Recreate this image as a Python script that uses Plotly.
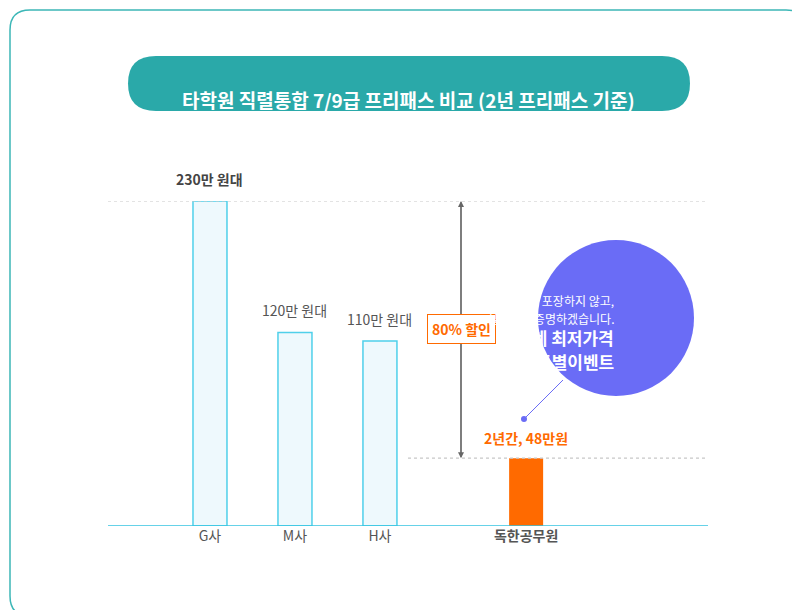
import plotly.graph_objects as go

# data
companies = ["G사", "M사", "H사", "독한공무원"]
x_pos = [0, 1, 2, 3.72]
bar_heights = [230, 137, 131, 48]   # drawn heights as seen in picture
price_labels = ["230만 원대", "120만 원대", "110만 원대", "2년간, 48만원"]

W, H = 800, 610
L, R, B, T = 100, 100, 92, 193
XMIN, XMAX = -1.2, 5.86

def px(x):
    return (x - L) / (W - L - R)

def py(y):
    return (H - B - y) / (H - B - T)

def dx(x):
    return XMIN + (x - L) * (XMAX - XMIN) / (W - L - R)

fig = go.Figure()
fig.add_bar(x=x_pos[:3], y=bar_heights[:3], width=0.4,
            marker=dict(color="#eef9fd", line=dict(color="#4fd0ea", width=1.5)))
fig.add_bar(x=x_pos[3:], y=bar_heights[3:], width=0.4,
            marker=dict(color="#ff6a00", line=dict(width=0)))

shapes = []
# outer frame
shapes.append(dict(type="path", xref="paper", yref="paper",
    path="M {0},{1} L {2},{1} Q {3},{1} {3},{4} L {3},{5} Q {3},{6} {2},{6} L {0},{6} Q {7},{6} {7},{5} L {7},{4} Q {7},{1} {0},{1} Z".format(
        px(22), py(2), px(778), px(798), py(22), py(588), py(608), px(2)),
    line=dict(color="#3cb7b7", width=1.5), fillcolor="rgba(0,0,0,0)", layer="below"))
# title pill
shapes.append(dict(type="path", xref="paper", yref="paper",
    path="M {0},{1} L {2},{1} Q {3},{1} {3},{4} Q {3},{5} {2},{5} L {0},{5} Q {6},{5} {6},{4} Q {6},{1} {0},{1} Z".format(
        px(148), py(48), px(654), px(682), py(75.5), py(103), px(120)),
    line=dict(width=0), fillcolor="#2aa9a9"))
# baseline
shapes.append(dict(type="line", xref="paper", yref="y", x0=0, x1=1, y0=0, y1=0,
                   line=dict(color="#33c3e0", width=1.5)))
# dotted guides
shapes.append(dict(type="line", xref="paper", yref="y", x0=0, x1=1, y0=230, y1=230,
                   line=dict(color="#c8c8c8", width=1.2, dash="dot")))
shapes.append(dict(type="line", xref="paper", yref="y", x0=px(400), x1=1, y0=48, y1=48,
                   line=dict(color="#c8c8c8", width=1.2, dash="dot")))
# purple circle
shapes.append(dict(type="circle", xref="paper", yref="paper",
    x0=px(530), x1=px(686), y0=py(388), y1=py(232), fillcolor="#6a6cf6", line=dict(width=0)))
# connector
shapes.append(dict(type="line", xref="paper", yref="paper", x0=px(516), y0=py(411),
                   x1=px(555), y1=py(372), line=dict(color="#6a6cf6", width=1)))
shapes.append(dict(type="circle", xref="paper", yref="paper", x0=px(513), x1=px(519),
                   y0=py(414), y1=py(408), fillcolor="#6a6cf6", line=dict(width=0)))

ann = []
ann.append(dict(x=0.5, y=py(76), xref="paper", yref="paper", showarrow=False,
    text="<b>타학원 직렬통합 7/9급 프리패스 비교 (2년 프리패스 기준)</b>",
    font=dict(size=19, color="white")))
# double arrow
for a, b in [(230, 48), (48, 230)]:
    ann.append(dict(x=dx(453), y=a, xref="x", yref="y", ax=dx(453), ay=b,
        axref="x", ayref="y", text="", showarrow=True, arrowhead=2,
        arrowsize=1, arrowwidth=1.2, arrowcolor="#666"))
ann.append(dict(x=px(453), y=py(321), xref="paper", yref="paper", showarrow=False,
    text="<b>80% 할인</b>", font=dict(size=14, color="#ff6a00"),
    bgcolor="white", bordercolor="#ff6a00", borderwidth=1, borderpad=4))
for i, (xp, h, lab) in enumerate(zip(x_pos, bar_heights, price_labels)):
    if i == 0:
        txt, col = "<b>" + lab + "</b>", "#444"
    elif i == 3:
        txt, col = "<b>" + lab + "</b>", "#ff6a00"
    else:
        txt, col = lab, "#555"
    ann.append(dict(x=xp, y=h, yshift=22 if i != 3 else 20, showarrow=False,
                    text=txt, font=dict(size=14, color=col)))
circle_lines = [("상술로 포장하지 않고,", 282, 12, False),
                ("실력으로 증명하겠습니다.", 300, 12, False),
                ("업계 최저가격", 329, 17, True),
                ("특별이벤트", 353, 17, True)]
for t, y, s, bold in circle_lines:
    ann.append(dict(x=px(608), y=py(y), xref="paper", yref="paper", showarrow=False,
        text="<b>%s</b>" % t if bold else t, font=dict(size=s, color="white")))

fig.update_layout(
    width=W, height=H, margin=dict(l=L, r=R, t=T, b=B),
    plot_bgcolor="white", paper_bgcolor="white", showlegend=False,
    font=dict(family="Noto Sans CJK KR"),
    shapes=shapes, annotations=ann,
    xaxis=dict(range=[XMIN, XMAX], tickvals=x_pos,
               ticktext=["G사", "M사", "H사", "<b>독한공무원</b>"],
               tickfont=dict(size=14, color="#555"), showgrid=False,
               zeroline=False, ticks="", ticklen=14, tickcolor="white"),
    yaxis=dict(range=[0, 230], visible=False),
)
fig.write_html("out.html")
